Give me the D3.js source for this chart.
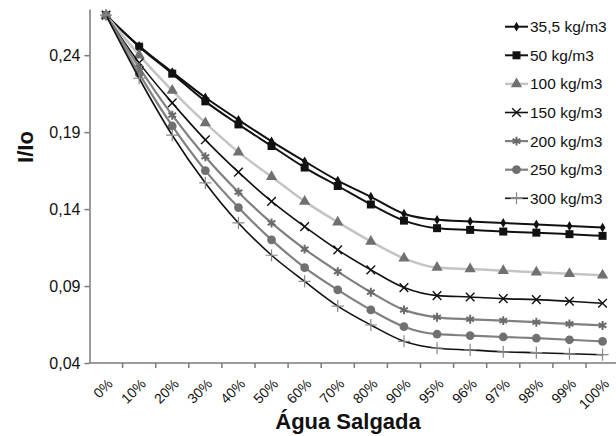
<!DOCTYPE html>
<html><head><meta charset="utf-8">
<script src="https://cdn.jsdelivr.net/npm/d3@7"></script>
<style>
html,body{margin:0;padding:0;background:#fff;}
svg{display:block;font-family:"Liberation Sans",Arial,sans-serif;}
</style></head>
<body>
<svg id="chart" width="616" height="436"></svg>
<script>
const categories = ["0%","10%","20%","30%","40%","50%","60%","70%","80%","90%","95%","96%","97%","98%","99%","100%"];
const seriesNames = ["35,5 kg/m3","50 kg/m3","100 kg/m3","150 kg/m3","200 kg/m3","250 kg/m3","300 kg/m3"];
const s355 = [0.266,0.246,0.229,0.2125,0.198,0.184,0.171,0.1585,0.148,0.137,0.133,0.132,0.131,0.130,0.129,0.128];
const s50  = [0.266,0.2455,0.228,0.210,0.195,0.181,0.167,0.155,0.143,0.1325,0.1276,0.1265,0.1254,0.1247,0.1237,0.1226];
const s100 = [0.266,0.240,0.217,0.196,0.177,0.161,0.145,0.1315,0.119,0.108,0.102,0.101,0.100,0.099,0.098,0.097];
const s150 = [0.266,0.235,0.209,0.185,0.164,0.145,0.1286,0.1135,0.1005,0.089,0.0838,0.0829,0.0818,0.0812,0.0801,0.0788];
const s200 = [0.266,0.232,0.201,0.174,0.151,0.131,0.114,0.0994,0.086,0.0745,0.0697,0.0684,0.0675,0.0665,0.0654,0.0644];
const s250 = [0.266,0.228,0.194,0.165,0.141,0.120,0.102,0.0875,0.0745,0.0636,0.0587,0.0578,0.0569,0.0561,0.0551,0.054];
const s300 = [0.266,0.225,0.188,0.157,0.131,0.110,0.093,0.077,0.0647,0.0541,0.0496,0.0485,0.0473,0.0467,0.046,0.0454];
const yTicks = [0.04,0.09,0.14,0.19,0.24];
const yDomain = [0.04,0.27];

const seriesValues = [s355,s50,s100,s150,s200,s250,s300];
const styles = [
  {line:"#111", lw:2, sym:d3.symbolDiamond, size:28, fill:"#111", stroke:"none"},
  {line:"#111", lw:2, sym:d3.symbolSquare, size:64, fill:"#111", stroke:"none"},
  {line:"#c4c4c4", lw:2.5, sym:d3.symbolTriangle, size:55, fill:"#707070", stroke:"none"},
  {line:"#111", lw:1.6, sym:d3.symbolTimes, size:50, fill:"none", stroke:"#111", sw:1.4},
  {line:"#808080", lw:2.2, sym:d3.symbolAsterisk, size:55, fill:"none", stroke:"#6a6a6a", sw:2},
  {line:"#808080", lw:2.2, sym:d3.symbolCircle, size:60, fill:"#707070", stroke:"none"},
  {line:"#111", lw:1.6, sym:d3.symbolPlus, size:50, fill:"none", stroke:"#888", sw:1.2}
];

const FONT = "'Liberation Sans', Arial, sans-serif";
const svg = d3.select("#chart");
const mLeft = 89.5, mTop = 9, mBottom = 363, bandW = 33.1;
const x = d3.scaleBand().domain(categories).range([mLeft, mLeft + bandW*categories.length]).padding(0);
const y = d3.scaleLinear().domain(yDomain).range([mBottom, mTop]);

// axes
const axisColor = "#7a7a7a";
const yAxis = svg.append("g").attr("transform",`translate(${mLeft},0)`)
  .call(d3.axisLeft(y).tickValues(yTicks).tickSize(5).tickSizeOuter(0).tickFormat(d => d3.format(".2f")(d).replace(".",",")))
  .attr("font-family",FONT);
yAxis.select(".domain").attr("stroke",axisColor).attr("stroke-width",1.5);
yAxis.selectAll(".tick line").attr("stroke",axisColor).attr("stroke-width",1.5);
yAxis.selectAll(".tick text").attr("font-size",16).attr("fill","#111").attr("x",-9);

const xAxisG = svg.append("g").attr("transform",`translate(0,${mBottom})`).attr("font-family",FONT);
xAxisG.append("line").attr("x1",mLeft).attr("x2",616).attr("y1",0).attr("y2",0).attr("stroke",axisColor).attr("stroke-width",1.5);
const boundaries = categories.map(c => x(c)).concat([x(categories[categories.length-1]) + x.bandwidth()]);
xAxisG.selectAll("line.tk").data(boundaries.slice(1)).join("line").attr("class","tk")
  .attr("x1",d=>d).attr("x2",d=>d).attr("y1",0).attr("y2",5).attr("stroke",axisColor).attr("stroke-width",1.5);
xAxisG.selectAll("text.lbl").data(categories).join("text").attr("class","lbl")
  .attr("transform",d=>`translate(${x(d)+x.bandwidth()/2+5},${19}) rotate(-45)`)
  .attr("text-anchor","end").attr("dominant-baseline","middle").attr("font-size",14).attr("fill","#111")
  .text(d=>d);

// titles
svg.append("text").attr("x",348).attr("y",429).attr("text-anchor","middle").attr("font-family",FONT)
  .attr("font-size",22).attr("font-weight","bold").attr("fill","#111").text("Água Salgada");
svg.append("text").attr("transform","translate(33,147) rotate(-90)").attr("text-anchor","middle").attr("font-family",FONT)
  .attr("font-size",22).attr("font-weight","bold").attr("fill","#111").text("I/Io");

// lines
const line = d3.line().x((d,i)=>x(categories[i])+x.bandwidth()/2).y(d=>y(d)).curve(d3.curveMonotoneX);
seriesValues.forEach((vals,k)=>{
  const st = styles[k];
  const g = svg.append("g");
  g.append("path").attr("d",line(vals)).attr("fill","none").attr("stroke",st.line).attr("stroke-width",st.lw);
  g.selectAll("path.m").data(vals).join("path").attr("class","m")
    .attr("transform",(d,i)=>`translate(${x(categories[i])+x.bandwidth()/2},${y(d)})`)
    .attr("d",d3.symbol().type(st.sym).size(st.size))
    .attr("fill",st.fill).attr("stroke",st.stroke).attr("stroke-width",st.sw||0);
});

// legend
const legY0 = 26.7, legStep = 28.6;
seriesNames.forEach((name,k)=>{
  const st = styles[k];
  const gy = legY0 + k*legStep;
  const g = svg.append("g");
  g.append("line").attr("x1",505).attr("x2",528).attr("y1",gy).attr("y2",gy).attr("stroke",st.line).attr("stroke-width",st.lw);
  g.append("path").attr("transform",`translate(516.5,${gy})`).attr("d",d3.symbol().type(st.sym).size(st.size))
    .attr("fill",st.fill).attr("stroke",st.stroke).attr("stroke-width",st.sw||0);
  g.append("text").attr("x",530).attr("y",gy).attr("dominant-baseline","central").attr("font-family",FONT)
    .attr("font-size",15.5).attr("fill","#111").text(name);
});
</script>
</body></html>
